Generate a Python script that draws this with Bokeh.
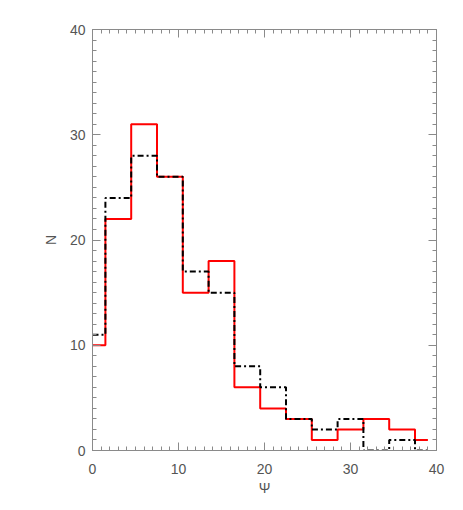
from bokeh.plotting import figure
from bokeh.models import LinearAxis, SingleIntervalTicker, Range1d
from bokeh.embed import file_html
from bokeh.resources import INLINE

# Histogram bin centres (Psi) and counts
psi_centers = [0, 3, 6, 9, 12, 15, 18, 21, 24, 27, 30, 33, 36, 39]
n_red = [10, 22, 31, 26, 15, 18, 6, 4, 3, 1, 2, 3, 2, 1]
n_black = [11, 24, 28, 26, 17, 15, 8, 6, 3, 2, 3, 0, 1, 0]

AX_COLOR = "#8a8a8a"
TXT_COLOR = "#555555"
FONT = "Liberation Sans"

p = figure(width=455, height=502, output_backend="svg", toolbar_location=None,
           x_range=Range1d(0, 40), y_range=Range1d(0, 40),
           x_axis_location=None, y_axis_location=None,
           min_border_left=92, min_border_right=19, min_border_top=29, min_border_bottom=52)
p.xgrid.visible = False
p.ygrid.visible = False
p.outline_line_color = None
p.background_fill_color = "white"

def style(ax, labels=True):
    ax.ticker = SingleIntervalTicker(interval=10, num_minor_ticks=10)
    ax.axis_line_color = AX_COLOR
    ax.major_tick_line_color = AX_COLOR
    ax.minor_tick_line_color = AX_COLOR
    ax.major_tick_in = 8
    ax.major_tick_out = 0
    ax.minor_tick_in = 4
    ax.minor_tick_out = 0
    ax.major_label_text_font = FONT
    ax.major_label_text_color = TXT_COLOR
    ax.major_label_text_font_size = "14px"
    ax.axis_label_text_font = FONT
    ax.axis_label_text_color = TXT_COLOR
    ax.axis_label_text_font_size = "14px"
    ax.axis_label_text_font_style = "normal"
    if not labels:
        ax.major_label_text_color = None
        ax.major_label_standoff = 0

xb = LinearAxis(axis_label="Ψ")
style(xb)
xb.major_label_standoff = 13
xb.axis_label_standoff = 3
p.add_layout(xb, "below")

yl = LinearAxis(axis_label="N")
style(yl)
yl.major_label_standoff = 7
yl.axis_label_standoff = 8
p.add_layout(yl, "left")

xt = LinearAxis()
style(xt, labels=False)
p.add_layout(xt, "above")

yr = LinearAxis()
style(yr, labels=False)
p.add_layout(yr, "right")

p.step(psi_centers, n_red, mode="center", line_color="#ff0000", line_width=2)
p.step(psi_centers, n_black, mode="center", line_color="black", line_width=2,
       line_dash="6 3 2 3")

open("out.html", "w").write(file_html(p, INLINE))
